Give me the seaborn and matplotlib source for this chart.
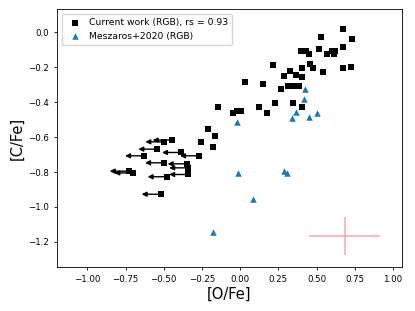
import matplotlib
matplotlib.use("Agg")
import matplotlib.pyplot as plt
import seaborn as sns
import numpy as np

# Current work (RGB) - detections
cw_ofe = [0.675, 0.732, 0.527, 0.398, 0.430, 0.452, 0.517, 0.566, 0.598, 0.620,
          0.613, 0.674, 0.406, 0.457, 0.478, 0.544, 0.674, 0.725, 0.365, 0.406,
          0.288, 0.217, 0.326, 0.031, 0.151, 0.267, 0.315, 0.347, 0.387, -0.147,
          -0.049, -0.023, 0.005, 0.125, 0.173, 0.228, 0.347, 0.406, -0.209, -0.167,
          -0.258, -0.178]
cw_cfe = [0.020, -0.038, -0.029, -0.105, -0.105, -0.126, -0.096, -0.126, -0.105, -0.105,
          -0.126, -0.086, -0.206, -0.183, -0.206, -0.226, -0.206, -0.197, -0.245, -0.254,
          -0.249, -0.187, -0.222, -0.287, -0.296, -0.325, -0.306, -0.306, -0.306, -0.426,
          -0.459, -0.449, -0.449, -0.426, -0.459, -0.407, -0.407, -0.426, -0.556, -0.596,
          -0.627, -0.657]

# Current work - upper limits on [O/Fe]
ul_ofe = [-0.448, -0.496, -0.542, -0.387, -0.269, -0.629, -0.498, -0.350, -0.340,
          -0.340, -0.729, -0.699, -0.481, -0.520]
ul_cfe = [-0.617, -0.627, -0.669, -0.688, -0.707, -0.707, -0.747, -0.753, -0.776,
          -0.814, -0.795, -0.805, -0.827, -0.927]
arrow_len = 0.125

# Meszaros+2020 (RGB)
m20_ofe = [0.424, 0.417, 0.363, 0.341, 0.448, 0.500, -0.021, -0.012, 0.288, 0.304,
           0.082, -0.180]
m20_cfe = [-0.327, -0.384, -0.455, -0.493, -0.484, -0.464, -0.512, -0.805, -0.793,
           -0.805, -0.954, -1.143]

# typical error bar
err_x, err_y = 0.685, -1.167
err_dx, err_dy = 0.232, 0.11

fig = plt.figure(figsize=(4.15, 3.11), dpi=100)
ax = fig.add_axes([0.137, 0.142, 0.832, 0.828])

all_x = cw_ofe + ul_ofe
all_y = cw_cfe + ul_cfe
sns.scatterplot(x=all_x, y=all_y, marker='s', color='black', s=20, linewidth=0,
                label='Current work (RGB), rs = 0.93', ax=ax, zorder=3)

for xv, yv in zip(ul_ofe, ul_cfe):
    ax.annotate('', xy=(xv - arrow_len, yv), xytext=(xv, yv),
                arrowprops=dict(arrowstyle='-|>', color='black', lw=1.0,
                                mutation_scale=7, shrinkA=0, shrinkB=0))

sns.scatterplot(x=m20_ofe, y=m20_cfe, marker='^', color='#1f77b4', s=22, linewidth=0,
                label='Meszaros+2020 (RGB)', ax=ax, zorder=3)

ax.errorbar([err_x], [err_y], xerr=[err_dx], yerr=[err_dy], fmt='none',
            ecolor='lightcoral', alpha=0.5, elinewidth=1.5)

ax.set_xlim(-1.2, 1.06)
ax.set_ylim(-1.343, 0.132)
ax.set_xticks(np.arange(-1.0, 1.01, 0.25))
ax.set_yticks(np.arange(-1.2, 0.01, 0.2))
ax.tick_params(labelsize=6.2, length=2.4, width=0.6)
for sp in ax.spines.values():
    sp.set_linewidth(0.6)
ax.set_xlabel('[O/Fe]', fontsize=10.5, labelpad=2)
ax.set_ylabel('[C/Fe]', fontsize=10.5, labelpad=2)
ax.legend(loc='upper left', fontsize=6.7, handletextpad=0.5, borderpad=0.45)

fig.savefig('out.png', dpi=100)
